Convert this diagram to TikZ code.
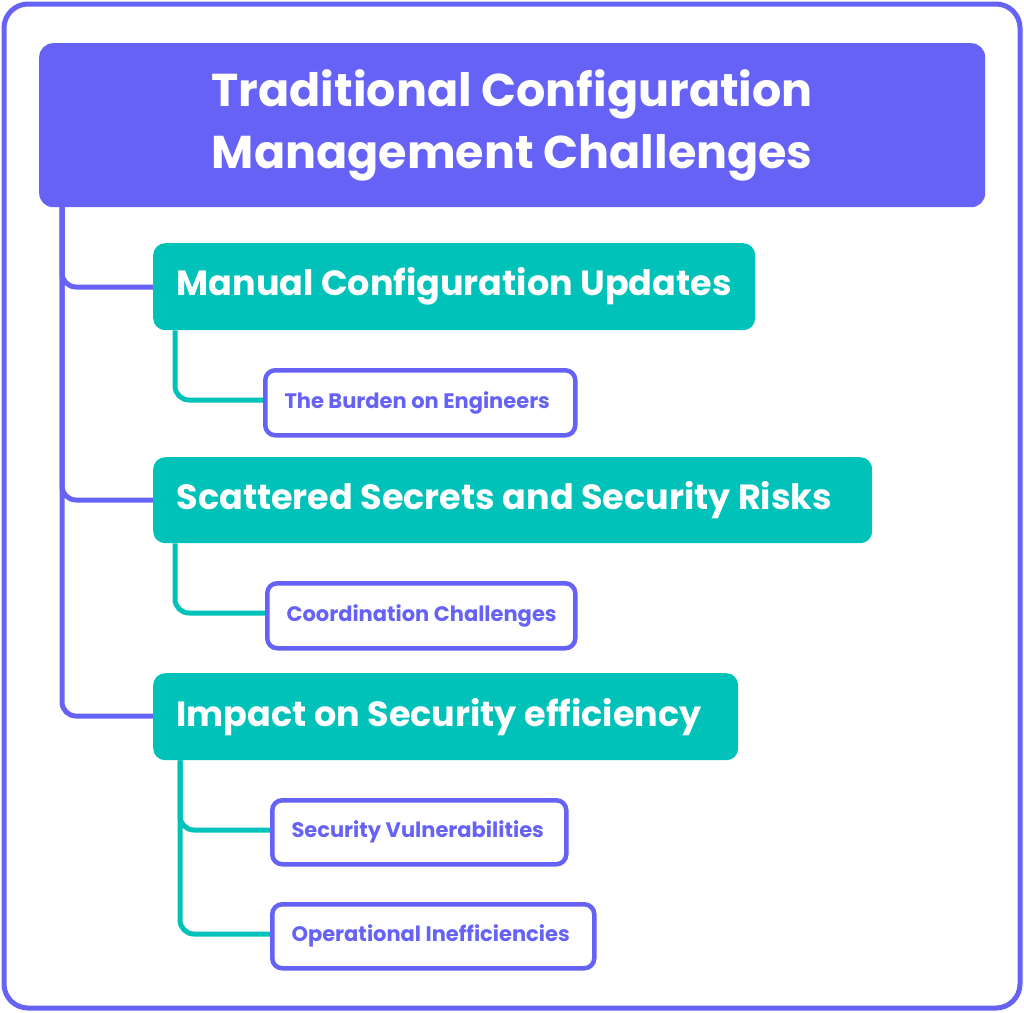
\documentclass[tikz,border=0pt]{standalone}
\usepackage{fontspec}
\setmainfont{Poppins}
\definecolor{pur}{HTML}{6562F5}
\definecolor{tea}{HTML}{00C2B8}
\begin{document}
\begin{tikzpicture}[x=1pt,y=-1pt,
  l1/.style={fill=tea,rounded corners=12,anchor=north west,inner sep=0},
  l1t/.style={anchor=west,text=white,font=\fontsize{35}{40}\selectfont\bfseries},
  l2/.style={draw=pur,line width=4.5pt,fill=white,rounded corners=10,anchor=north west,inner sep=0},
  l2t/.style={anchor=west,text=pur,font=\fontsize{21}{24}\selectfont\bfseries},
  pl/.style={draw=pur,line width=5pt,rounded corners=14},
  tl/.style={draw=tea,line width=5pt,rounded corners=14}]
\useasboundingbox (0,0) rectangle (1024,1012);
\draw[pur,line width=5pt,rounded corners=24] (4,4) rectangle (1020,1008);
\draw[pl] (62,207) |- (153,287);
\draw[pl] (62,207) |- (153,500);
\draw[pl] (62,207) |- (153,716);
\node[fill=pur,rounded corners=14,minimum width=946,minimum height=164,anchor=north west,text=white,align=center,font=\fontsize{46}{62}\selectfont\bfseries] (title) at (39,43) {Traditional Configuration\\Management Challenges};
\node[l1,minimum width=602,minimum height=87] (m1) at (153,243) {};
\node[l1t] (t1) at ([xshift=20]m1.west) {Manual Configuration Updates};
\node[l1,minimum width=719,minimum height=86] (m2) at (153,457) {};
\node[l1t] (t2) at ([xshift=20]m2.west) {Scattered Secrets and Security Risks};
\node[l1,minimum width=585,minimum height=87] (m3) at (153,673) {};
\node[l1t] (t3) at ([xshift=20]m3.west) {Impact on Security efficiency};
\draw[tl] ([xshift=22]m1.south west) |- (263,400);
\draw[tl] ([xshift=22]m2.south west) |- (265,613);
\draw[tl] ([xshift=27]m3.south west) |- (270,830);
\draw[tl] ([xshift=27]m3.south west) |- (270,934);
\node[l2,minimum width=310,minimum height=65] (s1) at (263,368) {};
\node[l2t] at ([xshift=18]s1.west) {The Burden on Engineers};
\node[l2,minimum width=308,minimum height=65] (s2) at (265,581) {};
\node[l2t] at ([xshift=18]s2.west) {Coordination Challenges};
\node[l2,minimum width=294,minimum height=64] (s3) at (270,798) {};
\node[l2t] at ([xshift=18]s3.west) {Security Vulnerabilities};
\node[l2,minimum width=322,minimum height=64] (s4) at (270,902) {};
\node[l2t] at ([xshift=18]s4.west) {Operational Inefficiencies};
\end{tikzpicture}
\end{document}
